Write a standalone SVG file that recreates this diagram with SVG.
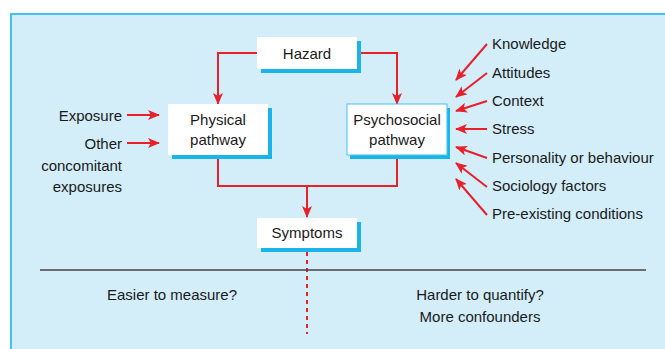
<svg xmlns="http://www.w3.org/2000/svg" width="665" height="349" viewBox="0 0 665 349">
<defs>
<style>
text{font-family:"Liberation Sans",Arial,sans-serif;font-size:15px;fill:#1a1a1a}
.c{text-anchor:middle}
.r{text-anchor:end}
.box{fill:#ffffff}
.sh{fill:#19b5ea}
.ln{fill:none;stroke:#e8202a;stroke-width:2}
.arr{fill:none;stroke:#e8202a;stroke-width:2;marker-end:url(#ah)}
</style>
<marker id="ah" viewBox="0 0 12 10" refX="11" refY="5" markerWidth="12" markerHeight="10" markerUnits="userSpaceOnUse" orient="auto">
<path d="M0,0 L12,5 L0,10 L3,5 z" fill="#e8202a"/>
</marker>
</defs>
<rect x="0" y="0" width="665" height="349" fill="#ffffff"/>
<rect x="11" y="14" width="660" height="340" fill="#d3eef9" stroke="#46c1ef" stroke-width="2"/>
<g id="connectors">
<path class="arr" d="M257,53 H218 V104"/>
<path class="arr" d="M357,53 H397 V104"/>
<path class="ln" d="M218,156 V186 H397 V158"/>
<path class="arr" d="M307,186 V217"/>
<path class="arr" d="M127,115 H159"/>
<path class="arr" d="M127,143 H159"/>
<path class="arr" d="M487,44 L456,80"/>
<path class="arr" d="M487,73 L456,97"/>
<path class="arr" d="M487,101 L456,111"/>
<path class="arr" d="M487,129 L456,129"/>
<path class="arr" d="M487,158 L456,147"/>
<path class="arr" d="M487,187 L456,163"/>
<path class="arr" d="M487,215 L456,179"/>
<path d="M307,252 V334" fill="none" stroke="#e8202a" stroke-width="2" stroke-dasharray="4,4"/>
<path d="M40,270 H646" fill="none" stroke="#444444" stroke-width="1.5"/>
</g>
<g id="hazard">
<rect class="sh" x="261" y="41" width="100" height="32"/>
<rect class="box" x="257" y="37" width="100" height="32"/>
<text class="c" x="307" y="59">Hazard</text>
</g>
<g id="physical">
<rect class="sh" x="172" y="108" width="100" height="51"/>
<rect class="box" x="168" y="104" width="100" height="51"/>
<text class="c" x="218" y="125">Physical</text>
<text class="c" x="218" y="145">pathway</text>
</g>
<g id="psychosocial">
<rect class="sh" x="350" y="108" width="100" height="51"/>
<rect class="box" x="347" y="104" width="100" height="51" stroke="#46c1ef" stroke-width="1"/>
<text class="c" x="397" y="125">Psychosocial</text>
<text class="c" x="397" y="145">pathway</text>
</g>
<g id="symptoms">
<rect class="sh" x="261" y="222" width="100" height="30"/>
<rect class="box" x="257" y="218" width="100" height="30"/>
<text class="c" x="307" y="238">Symptoms</text>
</g>
<g id="exposure"><text class="r" x="122" y="121">Exposure</text></g>
<g id="other">
<text class="r" x="122" y="149">Other</text>
<text class="r" x="122" y="171">concomitant</text>
<text class="r" x="122" y="192">exposures</text>
</g>
<g id="factors">
<text x="492" y="49">Knowledge</text>
<text x="492" y="78">Attitudes</text>
<text x="492" y="106">Context</text>
<text x="492" y="134">Stress</text>
<text x="492" y="163">Personality or behaviour</text>
<text x="492" y="191">Sociology factors</text>
<text x="492" y="219">Pre-existing conditions</text>
</g>
<g id="notes">
<text class="c" x="172" y="300">Easier to measure?</text>
<text class="c" x="480" y="300">Harder to quantify?</text>
<text class="c" x="480" y="322">More confounders</text>
</g>
</svg>
